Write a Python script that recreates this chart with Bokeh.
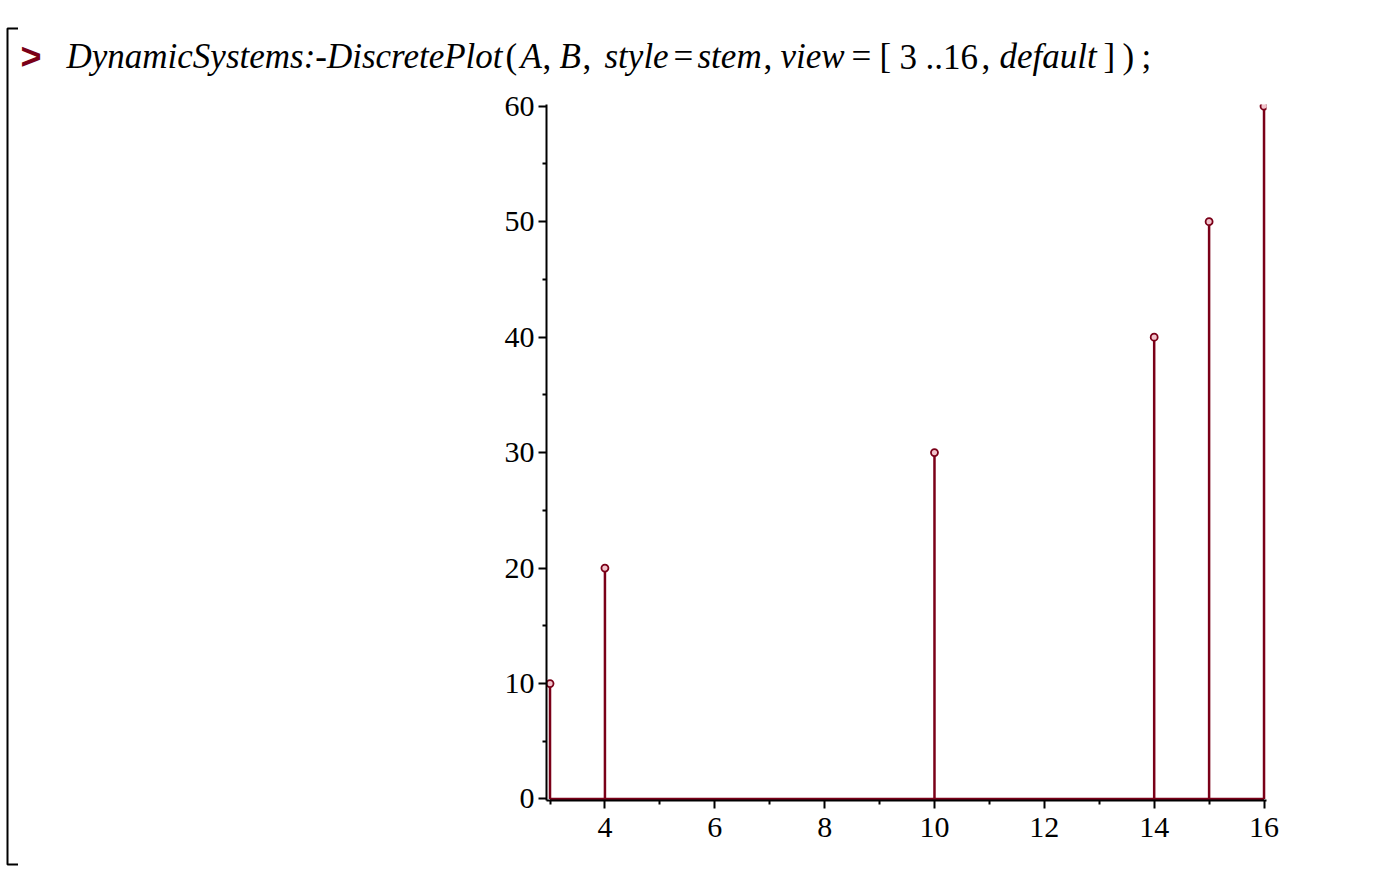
from bokeh.plotting import figure
from bokeh.layouts import column, row
from bokeh.models import Range1d, FixedTicker
from bokeh.core.properties import value
from bokeh.embed import file_html
from bokeh.resources import INLINE

# data
X = [3, 4, 10, 14, 15, 16]
Y = [10, 20, 30, 40, 50, 60]
x_major = [4, 6, 8, 10, 12, 14, 16]
x_minor = [3, 5, 7, 9, 11, 13, 15]
y_major = [0, 10, 20, 30, 40, 50, 60]
y_minor = [5, 15, 25, 35, 45, 55]

RED = "#7a0018"
SERIF = "Liberation Serif"

W, H = 1372, 866
LEFT_W = 18
TOP_H = 90


def blank(width, height):
    f = figure(width=width, height=height, output_backend="svg", toolbar_location=None,
               x_range=Range1d(0, width), y_range=Range1d(height, 0),
               min_border=0, min_border_left=0, min_border_right=0,
               min_border_top=0, min_border_bottom=0)
    f.axis.visible = False
    f.grid.visible = False
    f.outline_line_color = None
    return f


# ---- left strip: worksheet bracket ----
left = blank(LEFT_W, H)
left.line(x=[18, 7, 7, 18], y=[28, 28, 864, 864], line_color="black", line_width=2)

# ---- top strip: command line ----
top = blank(W - LEFT_W, TOP_H)
BASE = 56
segs = [
    ("DynamicSystems:-DiscretePlot", 66, "italic"),
    ("(", 505, "normal"),
    ("A", 520, "italic"), (",", 542, "normal"),
    ("B", 559, "italic"), (",", 582, "normal"),
    ("style", 604, "italic"), ("=", 673, "normal"),
    ("stem", 697, "italic"), (",", 763, "normal"),
    ("view", 780, "italic"), ("=", 851, "normal"),
    ("[", 879, "normal"), ("3", 899, "normal"),
    ("..16", 925, "normal"), (",", 981, "normal"),
    ("default", 999, "italic"), ("]", 1103, "normal"),
    (")", 1122, "normal"), (";", 1141, "normal"),
]
for st in ("italic", "normal"):
    s = [sg for sg in segs if sg[2] == st]
    top.text(x=[sg[1] - LEFT_W for sg in s], y=[BASE] * len(s), text=[sg[0] for sg in s],
             text_font=value(SERIF), text_font_style=st, text_font_size=value("35px"),
             text_color="black", text_baseline="alphabetic", text_align="left")
top.text(x=[20 - LEFT_W], y=[BASE], text=[">"], text_font=value("Liberation Sans"),
         text_font_style="bold", text_font_size=value("36px"), text_color=RED,
         text_baseline="alphabetic", text_align="left")

# ---- main plot ----
p = figure(width=W - LEFT_W, height=H - TOP_H, output_backend="svg", toolbar_location=None,
           x_range=Range1d(2.936, 16.045), y_range=Range1d(-0.13, 60.15),
           min_border_left=546 - LEFT_W, min_border_right=106, min_border_top=14,
           min_border_bottom=66)
p.outline_line_color = None
p.xgrid.visible = False
p.ygrid.visible = False

for ax, maj, mino in ((p.xaxis[0], x_major, x_minor), (p.yaxis[0], y_major, y_minor)):
    ax.ticker = FixedTicker(ticks=maj, minor_ticks=mino)
    ax.axis_line_width = 2
    ax.axis_line_color = "black"
    ax.major_tick_line_width = 2
    ax.minor_tick_line_width = 2
    ax.major_tick_out = 8
    ax.major_tick_in = 0
    ax.minor_tick_out = 4
    ax.minor_tick_in = 0
    ax.major_label_text_font = SERIF
    ax.major_label_text_font_size = "30px"
    ax.major_label_text_color = "black"
    ax.major_label_text_line_height = 1.0
p.xaxis.major_label_standoff = 9
p.yaxis.major_label_standoff = 4

# stems
p.segment(x0=X, y0=[0] * len(X), x1=X, y1=Y, line_color=RED, line_width=2.5)
p.segment(x0=[min(X)], y0=[0], x1=[max(X)], y1=[0], line_color=RED, line_width=2.5)
p.scatter(X, Y, marker="circle", size=7, line_color=RED, line_width=1.8,
          fill_color="#f2c4cc")

layout = row(left, column(row(top), p))
open("out.html", "w").write(file_html(layout, INLINE))
